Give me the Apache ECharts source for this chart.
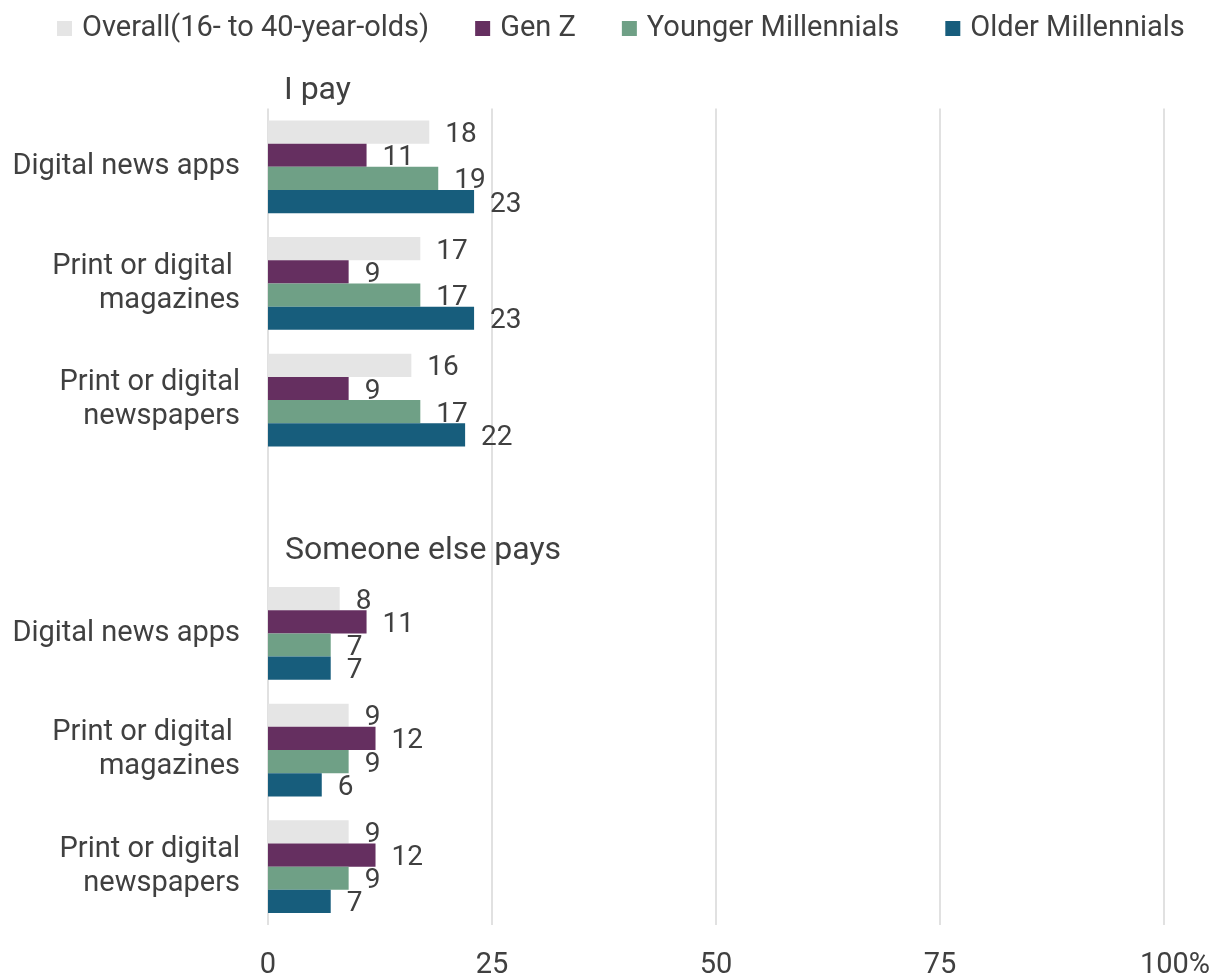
<!DOCTYPE html>
<html>
<head>
<meta charset="utf-8">
<script src="https://cdn.jsdelivr.net/npm/echarts@6/dist/echarts.min.js"></script>
<style>
html,body{margin:0;padding:0;background:#fff;}
#main{width:1220px;height:980px;}
</style>
</head>
<body>
<div id="main"></div>
<script>
// ---- data ----
var categories = ['Digital news apps', 'Print or digital \nmagazines', 'Print or digital\nnewspapers', '',
                  'Digital news apps', 'Print or digital \nmagazines', 'Print or digital\nnewspapers'];
var sectionTitles = ['I pay', 'Someone else pays'];
var seriesNames = ['Overall(16- to 40-year-olds)', 'Gen Z', 'Younger Millennials', 'Older Millennials'];
var overall    = [18, 17, 16, null, 8, 9, 9];
var genZ       = [11, 9, 9, null, 11, 12, 12];
var youngerMil = [19, 17, 17, null, 7, 9, 9];
var olderMil   = [23, 23, 22, null, 7, 6, 7];
var xTicks = [0, 25, 50, 75, 100];
var colors = ['#e5e5e5', '#652f60', '#6fa086', '#175d7c'];

var FONT = 'Roboto';
var TXT = '#404040';
var chart = echarts.init(document.getElementById('main'));
var catKeys = categories.map(function (c, i) { return i + '|' + c; });
var allValues = [overall, genZ, youngerMil, olderMil];

var series = allValues.map(function (vals, i) {
  return {
    name: seriesNames[i],
    type: 'bar',
    data: vals,
    barGap: '0%',
    barCategoryGap: '20.5%',
    itemStyle: { color: colors[i] },
    label: {
      show: true,
      position: 'right',
      distance: 16,
      offset: [0, 3],
      fontFamily: FONT,
      fontSize: 28,
      color: TXT
    }
  };
});

chart.setOption({
  animation: false,
  textStyle: { fontFamily: FONT },
  legend: {
    top: 14,
    left: 57,
    padding: 0,
    itemWidth: 15,
    itemHeight: 15,
    itemGap: 46,
    icon: 'rect',
    textStyle: { fontFamily: FONT, fontSize: 29, color: TXT, padding: [4, 0, 0, 5] },
    data: seriesNames
  },
  grid: { left: 268, right: 56, top: 108.5, bottom: 51.5, containLabel: false },
  xAxis: {
    type: 'value',
    min: xTicks[0],
    max: xTicks[xTicks.length - 1],
    interval: xTicks[1] - xTicks[0],
    axisLine: { show: false },
    axisTick: { show: false },
    splitLine: { show: true, lineStyle: { color: '#e1e1e1', width: 2 } },
    axisLabel: {
      fontFamily: FONT, fontSize: 29, color: TXT, margin: 26,
      formatter: function (v) { return v === 100 ? '{p|' + v + '%}' : String(v); },
      rich: { p: { fontFamily: FONT, fontSize: 29, color: TXT, padding: [0, 0, 0, 22] } }
    }
  },
  yAxis: {
    type: 'category',
    inverse: true,
    data: catKeys,
    axisLine: { show: false },
    axisTick: { show: false },
    axisLabel: {
      fontFamily: FONT, fontSize: 29, color: TXT, margin: 28, lineHeight: 34,
      align: 'right', padding: [6, 0, 0, 0],
      formatter: function (v) { return v.slice(v.indexOf('|') + 1); }
    }
  },
  series: series
});

// section titles placed relative to axes
var x0 = chart.convertToPixel({ xAxisIndex: 0 }, 0);
var yA = chart.convertToPixel({ yAxisIndex: 0 }, catKeys[0]);
var yB = chart.convertToPixel({ yAxisIndex: 0 }, catKeys[3]);
var band = chart.convertToPixel({ yAxisIndex: 0 }, catKeys[1]) - yA;
chart.setOption({
  graphic: [
    { type: 'text', x: x0 + 16, y: yA - band * 0.65,
      style: { text: sectionTitles[0], fontFamily: FONT, fontSize: 32, fill: TXT, verticalAlign: 'middle' } },
    { type: 'text', x: x0 + 17, y: yB + band * 0.29,
      style: { text: sectionTitles[1], fontFamily: FONT, fontSize: 32, fill: TXT, verticalAlign: 'middle' } }
  ]
});
</script>
</body>
</html>
